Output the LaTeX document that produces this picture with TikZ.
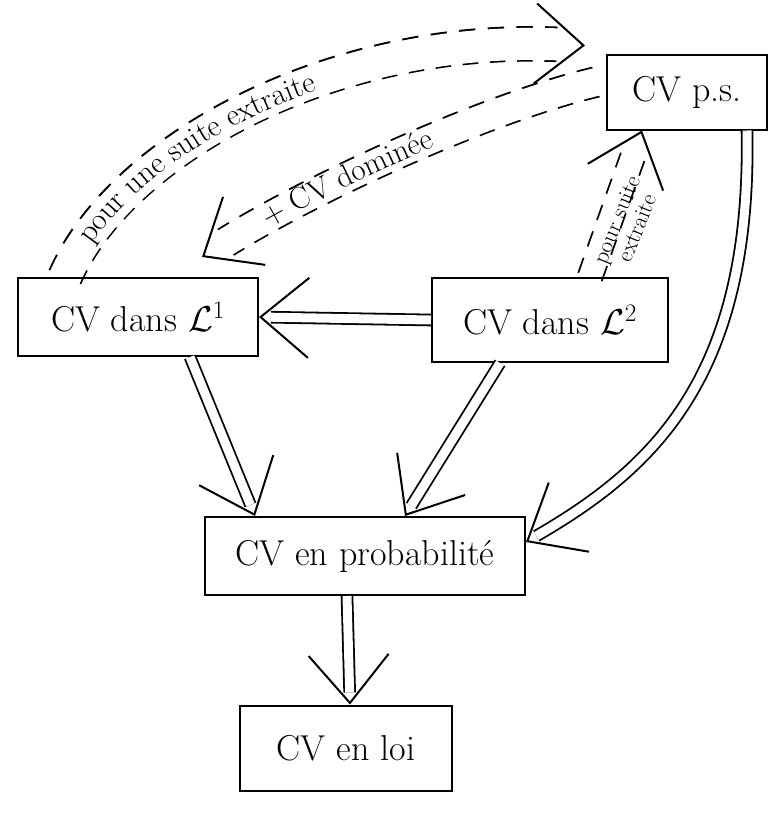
\RequirePackage{fix-cm}
\documentclass[tikz,border=0pt]{standalone}
\usetikzlibrary{arrows.meta,decorations.text}
\pgfdeclarelayer{bg}
\pgfsetlayers{bg,main}
\begin{document}
\begin{tikzpicture}[x=1pt,y=-1pt,
  box/.style={draw, line width=2pt, inner sep=0pt, font=\fontsize{36}{42}\selectfont},
  solidlink/.style={double, double distance=9pt, line width=1.8pt, shorten >=12pt},
  dashband/.style 2 args={line width=#1, dash pattern=on 16pt off 12pt, shorten >=28pt,
     postaction={draw=white, line width=#2, solid, shorten >=26.5pt, shorten <=-1.5pt}},
  headonly/.style={line width=2pt, dash pattern=on 0pt off 3000pt, -{Straight Barb[length=48pt,width=80pt]}},
  smalllbl/.style={font=\fontsize{23}{22}\selectfont, inner sep=0pt, align=center}]
\useasboundingbox (0,0) rectangle (769,836);

% boxes
\node[box, minimum width=160, minimum height=75] (ps) at (687,92) {CV p.s.};
\node[box, minimum width=240, minimum height=78] (L1) at (138,317) {CV dans $\mathcal{L}^1$};
\node[box, minimum width=236, minimum height=84] (L2) at (550,320) {CV dans $\mathcal{L}^2$};
\node[box, minimum width=320, minimum height=78] (prob) at (365,556) {CV en probabilité};
\node[box, minimum width=212, minimum height=85] (loi) at (346,748) {CV en loi};

% solid implications
\draw[solidlink] (L2.west) -- (L1.east);
\draw[headonly]  (L2.west) -- (L1.east);

\draw[solidlink] ([xshift=52]L1.south) -- ([xshift=-110]prob.north);
\draw[headonly]  ([xshift=52]L1.south) -- ([xshift=-110]prob.north);

\draw[solidlink] ([xshift=-50]L2.south) -- ([xshift=40]prob.north);
\draw[headonly]  ([xshift=-50]L2.south) -- ([xshift=40]prob.north);

\draw[solidlink] ([xshift=60]ps.south) .. controls (752,380) and (650,470) .. ([yshift=14]prob.east);
\draw[headonly]  ([xshift=60]ps.south) .. controls (752,380) and (650,470) .. ([yshift=14]prob.east);

\draw[solidlink] ([xshift=-18]prob.south) -- ([xshift=4]loi.north);
\draw[headonly]  ([xshift=-18]prob.south) -- ([xshift=4]loi.north);

% dashed implications (double dashed bands)
\begin{pgfonlayer}{bg}
\draw[dashband={35.6pt}{32pt}] ([xshift=48]L1.north west) .. controls (120,150) and (330,35) .. ([xshift=-21,yshift=8]ps.north west);
\draw[dashband={31.6pt}{28pt}] ([xshift=-10,yshift=10]ps.west) .. controls (480,110) and (310,190) .. ([xshift=64,yshift=20]L1.north);
\draw[dashband={26.6pt}{23pt}] ([xshift=40]L2.north) -- ([xshift=-45]ps.south);
\end{pgfonlayer}
\draw[headonly] ([xshift=48]L1.north west) .. controls (120,150) and (330,35) .. ([xshift=-21,yshift=8]ps.north west);
\draw[headonly] ([xshift=-10,yshift=10]ps.west) .. controls (480,110) and (310,190) .. ([xshift=64,yshift=20]L1.north);
\draw[headonly] ([xshift=40]L2.north) -- ([xshift=-45]ps.south);

% labels
\path[decorate, decoration={text along path, text={|\fontsize{31}{32}\selectfont|pour une suite extraite}, text align={left indent=42pt}, raise=-8pt}]
  ([xshift=48]L1.north west) .. controls (120,150) and (330,35) .. ([xshift=-21,yshift=8]ps.north west);
\path[decorate, decoration={text along path, text={|\fontsize{31}{32}\selectfont|+ CV dominée}, text align={left indent=72pt}, raise=-8pt}]
  ([xshift=64,yshift=20]L1.north) .. controls (310,190) and (480,110) .. ([xshift=-10,yshift=10]ps.west);
\node[smalllbl, rotate=68] (t3) at (627,224) {pour suite\\extraite};
\end{tikzpicture}
\end{document}
